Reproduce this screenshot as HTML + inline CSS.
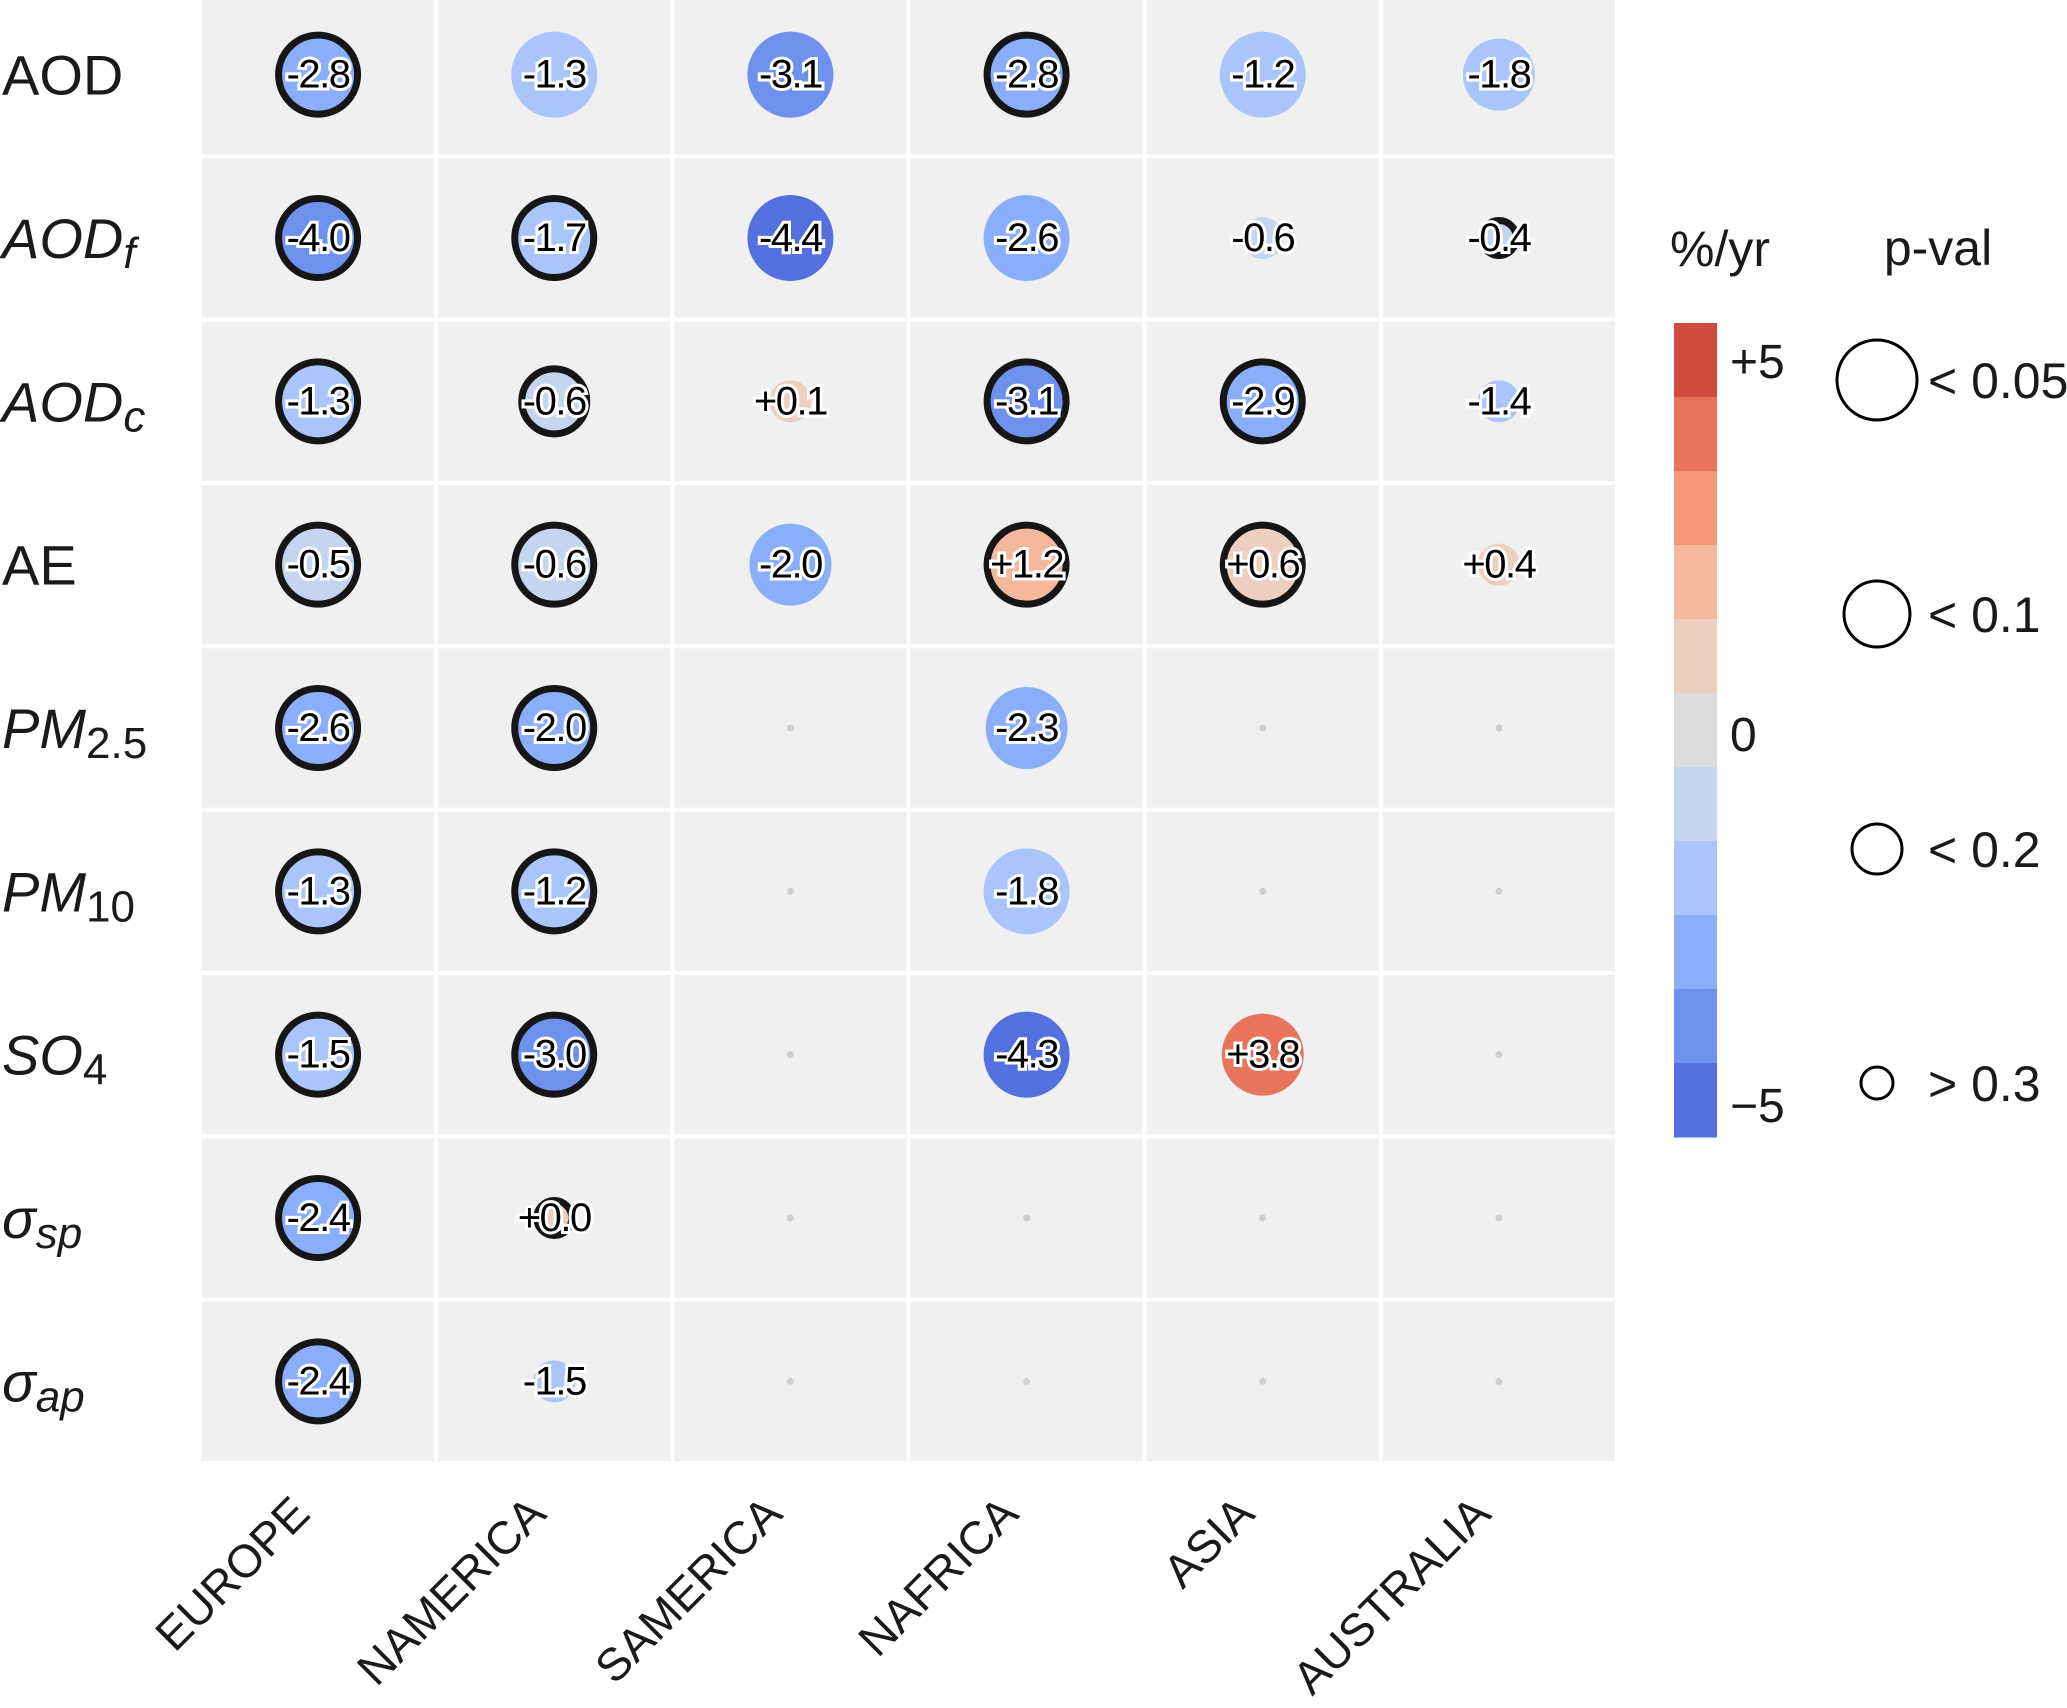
<!DOCTYPE html>
<html><head><meta charset="utf-8"><style>
body{margin:0;background:#fff}
svg{display:block;font-family:"Liberation Sans",sans-serif}
</style></head><body>
<svg id="chart" width="2067" height="1708" viewBox="0 0 2067 1708" xmlns="http://www.w3.org/2000/svg">
<g id="grid"></g><g id="marks"></g><g id="rowlabels"></g><g id="collabels"></g><g id="legend"></g>
</svg>
<script>
const regions=["EUROPE","NAMERICA","SAMERICA","NAFRICA","ASIA","AUSTRALIA"];
const variables=["AOD","AODf","AODc","AE","PM2.5","PM10","SO4","sp","ap"];
const trendValues=[
[-2.8,-1.3,-3.1,-2.8,-1.2,-1.8],
[-4.0,-1.7,-4.4,-2.6,-0.6,-0.4],
[-1.3,-0.6,0.1,-3.1,-2.9,-1.4],
[-0.5,-0.6,-2.0,1.2,0.6,0.4],
[-2.6,-2.0,null,-2.3,null,null],
[-1.3,-1.2,null,-1.8,null,null],
[-1.5,-3.0,null,-4.3,3.8,null],
[-2.4,0.0,null,null,null,null],
[-2.4,-1.5,null,null,null,null]];
const pValues=[
[0.01,0.01,0.01,0.01,0.01,0.15],
[0.01,0.01,0.01,0.01,0.4,0.4],
[0.01,0.15,0.4,0.01,0.01,0.4],
[0.01,0.01,0.05,0.01,0.01,0.4],
[0.01,0.01,null,0.05,null,null],
[0.01,0.01,null,0.01,null,null],
[0.01,0.01,null,0.01,0.05,null],
[0.01,0.4,null,null,null,null],
[0.01,0.4,null,null,null,null]];
const edged=[
[1,0,0,1,0,0],[1,1,0,0,0,1],[1,1,0,1,1,0],[1,1,0,1,1,0],
[1,1,0,0,0,0],[1,1,0,0,0,0],[1,1,0,0,0,0],[1,1,0,0,0,0],[1,0,0,0,0,0]];
const legendTicks=["+5","0","\u22125"];
const pvalLabels=["< 0.05","< 0.1","< 0.2","> 0.3"];
const binColors=["#d24b40","#e7745b","#f29878","#f6b89c","#eccfc0","#dcdcdc","#c5d5ef","#a9c5fb","#8aaefa","#6f91ee","#5470de"];

const NS="http://www.w3.org/2000/svg";
const X0=200,X1=1617,Y0=-7,Y1=1463;
const cw=(X1-X0)/regions.length,rh=(Y1-Y0)/variables.length;
const xc=i=>X0+cw*(i+0.5), yc=j=>Y0+rh*(j+0.5);
function mk(t,a,p){const e=document.createElementNS(NS,t);for(const k in a)e.setAttribute(k,a[k]);p.appendChild(e);return e;}
function color(v){
 if(v>=4)return binColors[0]; if(v>=3)return binColors[1]; if(v>=2)return binColors[2]; if(v>=1)return binColors[3];
 if(v>=0)return binColors[4];
 if(v>-0.95)return binColors[6]; if(v>-1.95)return binColors[7]; if(v>-2.95)return binColors[8]; if(v>-4.05)return binColors[9]; return binColors[10];
}
function radius(p){return p<0.05?43:p<0.1?41:p<0.2?36:21;}
const grid=document.getElementById('grid'),marks=document.getElementById('marks');
for(let j=0;j<variables.length;j++)for(let i=0;i<regions.length;i++){
 const c=mk('rect',{x:X0+cw*i+2,y:Y0+rh*j+2,width:cw-4,height:rh-4,fill:'#f0f0f0'},grid);
 
 
 const v=trendValues[j][i];
 if(v===null){const d=mk('circle',{cx:xc(i),cy:yc(j),r:3.5,fill:'#cfcfcf'},marks);
  
  continue;}
 const r=radius(pValues[j][i]);
 const e=edged[j][i]?1:0;
 const m=mk('circle',{cx:xc(i),cy:yc(j),r:e?r-3.5:r,fill:color(v),stroke:e?'#161616':'none','stroke-width':e?7:0},marks);
 
 
 const t=mk('text',{x:xc(i),y:yc(j)+13,'text-anchor':'middle','font-size':40,fill:'#000',stroke:'#fff','stroke-width':6,'paint-order':'stroke','letter-spacing':-1.5},marks);
 t.textContent=(v>=0?'+':'')+v.toFixed(1);
 
 
}
const rl=document.getElementById('rowlabels');
const rowHTML=['AOD','<tspan font-style="italic">AOD</tspan><tspan font-style="italic" font-size="44" dy="10">f</tspan>',
'<tspan font-style="italic">AOD</tspan><tspan font-style="italic" font-size="44" dy="10">c</tspan>','AE',
'<tspan font-style="italic">PM</tspan><tspan font-size="44" dy="10">2.5</tspan>','<tspan font-style="italic">PM</tspan><tspan font-size="44" dy="10">10</tspan>',
'<tspan font-style="italic">SO</tspan><tspan font-size="44" dy="10">4</tspan>',
'<tspan font-style="italic">σ</tspan><tspan font-style="italic" font-size="44" dy="10">sp</tspan>','<tspan font-style="italic">σ</tspan><tspan font-style="italic" font-size="44" dy="10">ap</tspan>'];
variables.forEach((v,j)=>{const t=mk('text',{x:2,y:yc(j)+20,'font-size':56,fill:'#1a1a1a'},rl);t.innerHTML=rowHTML[j];
 
 });
const cl=document.getElementById('collabels');
regions.forEach((r,i)=>{const x=xc(i)-6,y=1516;const t=mk('text',{x:x,y:y,'text-anchor':'end','font-size':46,fill:'#1a1a1a',transform:`rotate(-45 ${x} ${y})`},cl);t.textContent=r;
 
 });
const lg=document.getElementById('legend');
const t1=mk('text',{x:1720,y:266,'text-anchor':'middle','font-size':50,fill:'#1a1a1a'},lg);t1.textContent='%/yr';


const t2=mk('text',{x:1938,y:265,'text-anchor':'middle','font-size':50,fill:'#1a1a1a'},lg);t2.textContent='p-val';


const cbTop=323,cbBot=1137,segH=(cbBot-cbTop)/binColors.length;
binColors.forEach((c,k)=>{const s=mk('rect',{x:1674,y:cbTop+segH*k,width:43,height:segH+0.5,fill:c},lg);
 
 });
const tickY=[360,733,1104];
legendTicks.forEach((l,k)=>{const t=mk('text',{x:1730,y:tickY[k]+18,'font-size':48,fill:'#1a1a1a'},lg);t.textContent=l;
 
 });
const pr=[40,33,25,16],py=[380,614,849,1083];
pvalLabels.forEach((l,k)=>{const c=mk('circle',{cx:1877,cy:py[k],r:pr[k],fill:'none',stroke:'#000','stroke-width':3},lg);
 
 
 const t=mk('text',{x:1928,y:py[k]+18,'font-size':50,fill:'#1a1a1a'},lg);t.textContent=l;
 
 });
</script>
</body></html>
